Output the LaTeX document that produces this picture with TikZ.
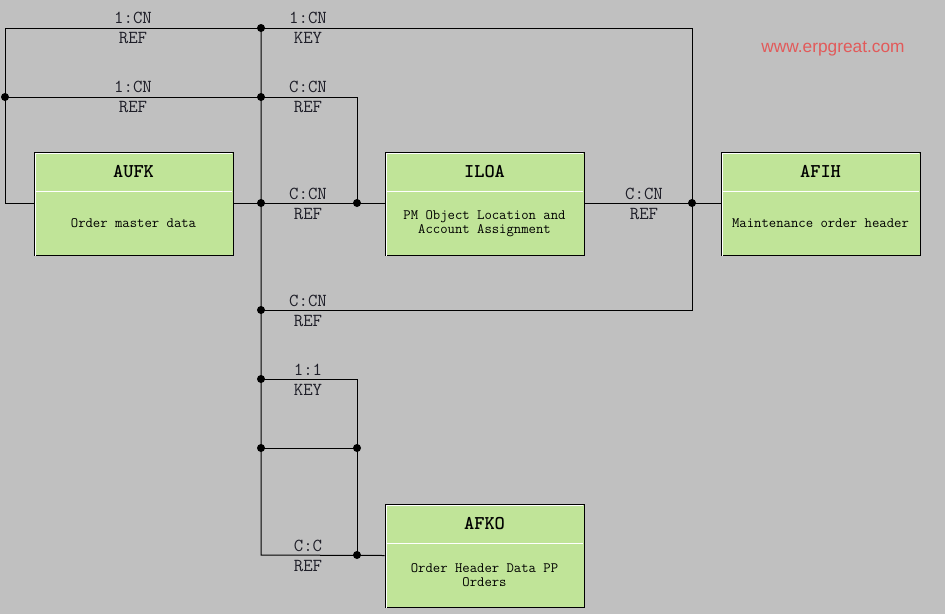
\documentclass[tikz,border=0pt]{standalone}
\usepackage{fontspec}
\setsansfont{Liberation Sans}
\definecolor{bg}{RGB}{192,192,192}
\definecolor{boxfill}{RGB}{192,228,152}
\definecolor{wm}{RGB}{226,90,90}
\definecolor{lbl}{RGB}{30,30,40}
\tikzset{
  tbl/.style={draw=black, fill=boxfill, line width=1pt, minimum width=199pt, minimum height=103pt, inner sep=0pt},
  ttl/.style={font=\ttfamily\bfseries\fontsize{19.5}{19.5}\selectfont, inner sep=0pt},
  dsc/.style={font=\ttfamily\fontsize{14.3}{14}\selectfont, align=center, inner sep=0pt},
  rel/.style={font=\ttfamily\fontsize{18.3}{20}\selectfont, text=lbl, align=center, inner sep=0pt},
  con/.style={line width=1pt, black},
  dot/.style={circle, fill=black, inner sep=0pt, minimum size=8pt},
}
\begin{document}
\begin{tikzpicture}[x=1pt,y=-1pt]
\fill[bg] (0,0) rectangle (945,614);
\useasboundingbox (0,0) rectangle (945,614);
% tables
\node[tbl] (aufk) at (133.5,203.5) {};
\node[tbl] (iloa) at (484.5,203.5) {};
\node[tbl] (afih) at (820.5,203.5) {};
\node[tbl] (afko) at (484.5,555.5) {};
\foreach \b/\t/\d in {aufk/AUFK/{Order master data}, iloa/ILOA/{PM Object Location and\\Account Assignment}, afih/AFIH/{Maintenance order header}, afko/AFKO/{Order Header Data PP\\Orders}}{
  \draw[white, line width=1pt] ([shift={(1.5,0)}]\b.south west) -- ([shift={(1.5,1.5)}]\b.north west) -- ([shift={(-1.5,1.5)}]\b.north east);
  \draw[white, line width=1.2pt] ([shift={(1.5,40)}]\b.north west) -- ([shift={(-1.5,40)}]\b.north east);
  \node[ttl] (\b-t) at ([yshift=-20pt]\b.north) {\t};
  \node[dsc] (\b-d) at ([yshift=-72pt]\b.north) {\d};
}
% junction coordinates
\coordinate (cA) at (5,28);
\coordinate (cB) at (692,28);
\coordinate (cD) at (692,310);
\coordinate (cC) at (357,97);
\coordinate (cE) at (357,379);
\coordinate (cF) at (261,555);
\node[dot] (jT) at (261,28) {};
\node[dot] (jL) at (5,97) {};
\node[dot] (jM) at (261,97) {};
\node[dot] (jAU) at (261,203) {};
\node[dot] (jIL) at (357,203) {};
\node[dot] (jAF) at (692,203) {};
\node[dot] (jCN) at (261,310) {};
\node[dot] (j11) at (261,379) {};
\node[dot] (jX1) at (261,448) {};
\node[dot] (jX2) at (357,448) {};
\node[dot] (jK) at (357,555) {};
% connectors
\draw[con] (aufk.west) -| (cA) -- (cB) -- (cD) -- (jCN.center);
\draw[con] (jL.center) -- (cC) -- (jIL.center);
\draw[con] (aufk.east) -- (iloa.west);
\draw[con] (iloa.east) -- (afih.west);
\draw[con] (jT.center) -- (cF) -- (afko.west);
\draw[con] (j11.center) -- (cE) -- (jK.center);
\draw[con] (jX1.center) -- (jX2.center);
% relation labels
\node[rel] (l1) at (133,28) {1:CN\\REF};
\node[rel] (l2) at (308,28) {1:CN\\KEY};
\node[rel] (l3) at (133,97) {1:CN\\REF};
\node[rel] (l4) at (308,97) {C:CN\\REF};
\node[rel] (l5) at (308,204) {C:CN\\REF};
\node[rel] (l6) at (644,204) {C:CN\\REF};
\node[rel] (l7) at (308,310.5) {C:CN\\REF};
\node[rel] (l8) at (308,379.5) {1:1\\KEY};
\node[rel] (l9) at (308,555.5) {C:C\\REF};
% watermark
\node[font=\sffamily\fontsize{17.3}{16}\selectfont, text=wm, inner sep=0pt] (wmk) at (833,49) {www.erpgreat.com};
\end{tikzpicture}
\end{document}
